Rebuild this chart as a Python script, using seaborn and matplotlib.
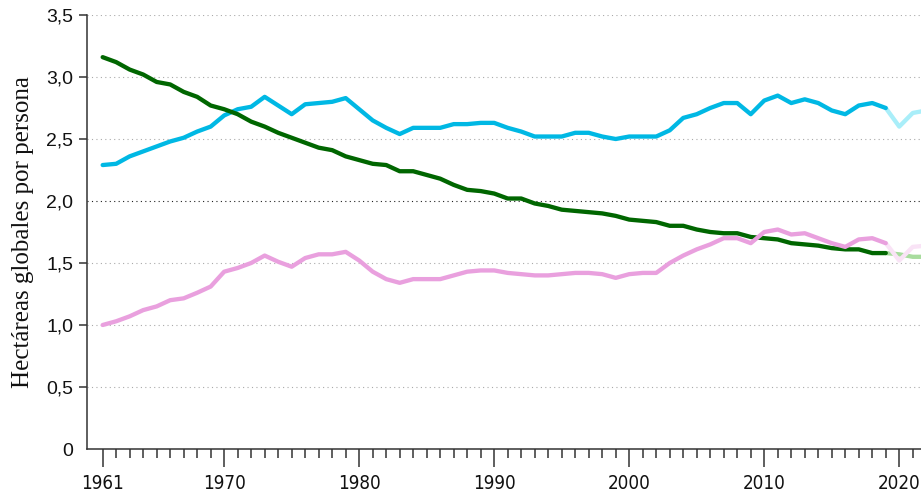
import matplotlib
matplotlib.use("Agg")
import matplotlib.pyplot as plt
from matplotlib import font_manager
from matplotlib.ticker import FixedLocator, FuncFormatter
import seaborn as sns

years = list(range(1961, 2020))
years_proj = [2019, 2020, 2021, 2022]

blue = [2.29, 2.30, 2.36, 2.40, 2.44, 2.48, 2.51, 2.56, 2.60, 2.69,
        2.74, 2.76, 2.84, 2.77, 2.70, 2.78, 2.79, 2.80, 2.83, 2.74,
        2.65, 2.59, 2.54, 2.59, 2.59, 2.59, 2.62, 2.62, 2.63, 2.63,
        2.59, 2.56, 2.52, 2.52, 2.52, 2.55, 2.55, 2.52, 2.50, 2.52,
        2.52, 2.52, 2.57, 2.67, 2.70, 2.75, 2.79, 2.79, 2.70, 2.81,
        2.85, 2.79, 2.82, 2.79, 2.73, 2.70, 2.77, 2.79, 2.75]
green = [3.16, 3.12, 3.06, 3.02, 2.96, 2.94, 2.88, 2.84, 2.77, 2.74,
         2.70, 2.64, 2.60, 2.55, 2.51, 2.47, 2.43, 2.41, 2.36, 2.33,
         2.30, 2.29, 2.24, 2.24, 2.21, 2.18, 2.13, 2.09, 2.08, 2.06,
         2.02, 2.02, 1.98, 1.96, 1.93, 1.92, 1.91, 1.90, 1.88, 1.85,
         1.84, 1.83, 1.80, 1.80, 1.77, 1.75, 1.74, 1.74, 1.71, 1.70,
         1.69, 1.66, 1.65, 1.64, 1.62, 1.61, 1.61, 1.58, 1.58]
pink = [1.00, 1.03, 1.07, 1.12, 1.15, 1.20, 1.215, 1.26, 1.31, 1.43,
        1.46, 1.50, 1.56, 1.51, 1.47, 1.54, 1.57, 1.57, 1.59, 1.52,
        1.43, 1.37, 1.34, 1.37, 1.37, 1.37, 1.40, 1.43, 1.44, 1.44,
        1.42, 1.41, 1.40, 1.40, 1.41, 1.42, 1.42, 1.41, 1.38, 1.41,
        1.42, 1.42, 1.50, 1.56, 1.61, 1.65, 1.70, 1.70, 1.66, 1.75,
        1.77, 1.73, 1.74, 1.70, 1.66, 1.63, 1.69, 1.70, 1.66]

blue_proj = [2.75, 2.60, 2.71, 2.73]
green_proj = [1.58, 1.57, 1.55, 1.55]
pink_proj = [1.66, 1.52, 1.63, 1.64]

y_ticks = [0, 0.5, 1.0, 1.5, 2.0, 2.5, 3.0, 3.5]
x_major = [1961, 1970, 1980, 1990, 2000, 2010, 2020]

# condensed font for the year labels if one is installed
fonts = font_manager.fontManager.ttflist
xfont = {"family": ["Liberation Sans"], "size": 14}
if any(f.name == "Liberation Sans Narrow" for f in fonts):
    xfont = {"family": ["Liberation Sans Narrow"], "size": 16}
elif any(f.name == "DejaVu Sans" and "ondensed" in f.fname for f in fonts):
    xfont = {"family": ["DejaVu Sans"], "stretch": "condensed", "size": 13.5}

sns.set_style("white")
plt.rcParams["font.family"] = ["Liberation Sans", "DejaVu Sans"]

fig = plt.figure(figsize=(9.21, 4.97), dpi=100)
ax = fig.add_axes([87 / 921, 48 / 497, 834 / 921, 434 / 497])

# grid
for v in y_ticks[1:]:
    c = "#222222" if v == 2.0 else "#aaaaaa"
    ax.axhline(v, color=c, lw=0.8, ls=(0, (1, 3)), zorder=1)

lw = 3.1
sns.lineplot(x=years, y=blue, color="#00b8e4", lw=lw, ax=ax, zorder=3)
sns.lineplot(x=years, y=green, color="#006600", lw=lw, ax=ax, zorder=4)
sns.lineplot(x=years, y=pink, color="#e9a0de", lw=lw, ax=ax, zorder=5)
sns.lineplot(x=years_proj, y=blue_proj, color="#a9eef9", lw=lw, ax=ax, zorder=2)
sns.lineplot(x=years_proj, y=green_proj, color="#a8dc9e", lw=lw, ax=ax, zorder=2)
sns.lineplot(x=years_proj, y=pink_proj, color="#f9e3f6", lw=lw, ax=ax, zorder=2.5)

ax.set_xlim(1959.84, 2021.61)
ax.set_ylim(0, 3.5)

ax.yaxis.set_major_locator(FixedLocator(y_ticks))
ax.yaxis.set_major_formatter(FuncFormatter(lambda v, p: "0" if v == 0 else f"{v:.1f}".replace(".", ",")))
ax.xaxis.set_major_locator(FixedLocator(x_major))
ax.xaxis.set_minor_locator(FixedLocator(list(range(1961, 2022))))

for s in ["top", "right"]:
    ax.spines[s].set_visible(False)
for s in ["left", "bottom"]:
    ax.spines[s].set_color("#333333")
    ax.spines[s].set_linewidth(1.1)

ax.tick_params(axis="y", which="major", left=True, length=6, width=1.1, color="#333333",
               pad=4, labelsize=14, labelcolor="#111111")
ax.tick_params(axis="x", which="major", bottom=True, length=13, width=1.1, color="#333333",
               pad=5, labelcolor="#111111")
ax.tick_params(axis="x", which="minor", bottom=True, length=6.5, width=1.1, color="#333333")
for lab in ax.get_xticklabels():
    lab.set_fontproperties(font_manager.FontProperties(**xfont))

yt = ax.yaxis.get_major_ticks()
yt[0].tick1line.set_visible(False)
yt[4].tick1line.set_visible(False)

ax.set_xlabel("")
ax.set_ylabel("Hectáreas globales por persona", family=["Liberation Serif", "DejaVu Serif"],
              fontsize=18, color="#111111", labelpad=9)

fig.savefig("out.png", dpi=100)
